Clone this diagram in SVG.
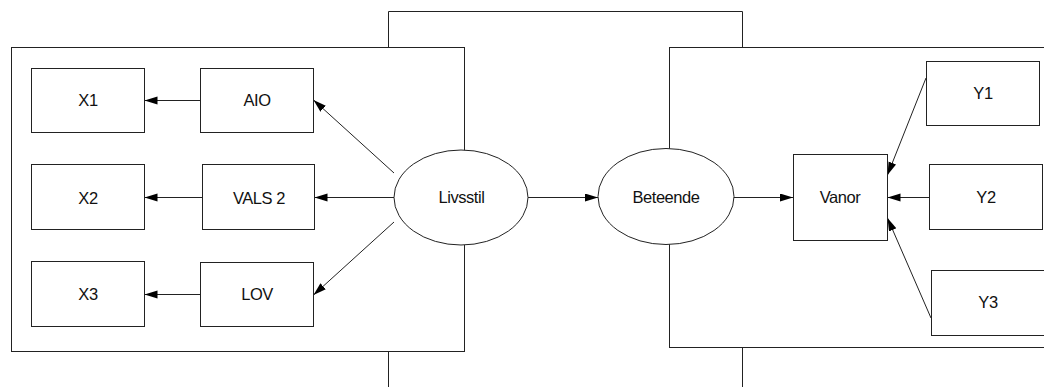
<svg xmlns="http://www.w3.org/2000/svg" width="1044" height="387" viewBox="0 0 1044 387">
  <style>
    .frame { fill: none; stroke: #222; stroke-width: 1; }
    .box { fill: #fff; stroke: #222; stroke-width: 1; }
    .oval { fill: #fff; stroke: #222; stroke-width: 1; }
    .lbl { font-family: "Liberation Sans", Arial, sans-serif; font-size: 16.5px; letter-spacing: -0.45px; fill: #111; text-anchor: middle; }
    .edge { fill: none; stroke: #222; stroke-width: 1; marker-end: url(#head); }
  </style>
  <defs>
    <marker id="head" markerUnits="userSpaceOnUse" markerWidth="14" markerHeight="9" refX="13" refY="4" orient="auto">
      <path d="M0,0 L13,4 L0,8 Z" fill="#000"/>
    </marker>
  </defs>
  <rect width="1044" height="387" fill="#fff"/>

  <!-- enclosing frames and the bracket joining them -->
  <g id="frames">
    <rect class="frame" x="11.5" y="47.5" width="453" height="304"/>
    <rect class="frame" x="669.5" y="47.5" width="400" height="300"/>
    <path class="frame" d="M388.5,47.5 V11.5 H742.5 V47.5"/>
    <path class="frame" d="M388.5,351.5 V387"/>
    <path class="frame" d="M742.5,347.5 V387"/>
  </g>

  <g id="connectors">
    <path class="edge" d="M200.5,100.5 H144.5"/>
    <path class="edge" d="M202.5,197.5 H144.5"/>
    <path class="edge" d="M200.5,294.5 H144.5"/>
    <path class="edge" d="M394,173 L313.5,100"/>
    <path class="edge" d="M394,197.5 H314.5"/>
    <path class="edge" d="M394,222 L313.5,295"/>
    <path class="edge" d="M528,197.5 H598"/>
    <path class="edge" d="M734,197.5 H793"/>
    <path class="edge" d="M929,197.5 H887.5"/>
    <path class="edge" d="M926,78 L887.5,175"/>
    <path class="edge" d="M931,318 L887.5,218"/>
  </g>

  <g id="X1"><rect class="box" x="31.5" y="68.5" width="113" height="64"/><text class="lbl" x="88" y="105.5">X1</text></g>
  <g id="AIO"><rect class="box" x="200.5" y="68.5" width="113" height="64"/><text class="lbl" x="257" y="105.5">AIO</text></g>
  <g id="X2"><rect class="box" x="31.5" y="164.5" width="113" height="65"/><text class="lbl" x="88" y="203.5">X2</text></g>
  <g id="VALS2"><rect class="box" x="202.5" y="164.5" width="112" height="65"/><text class="lbl" x="259" y="203.5">VALS 2</text></g>
  <g id="X3"><rect class="box" x="31.5" y="261.5" width="113" height="65"/><text class="lbl" x="88" y="300">X3</text></g>
  <g id="LOV"><rect class="box" x="200.5" y="262.5" width="113" height="64"/><text class="lbl" x="257" y="300">LOV</text></g>

  <g id="Livsstil"><ellipse class="oval" cx="461" cy="197.5" rx="67" ry="47.5"/><text class="lbl" x="461.5" y="203">Livsstil</text></g>
  <g id="Beteende"><ellipse class="oval" cx="666" cy="196.5" rx="68" ry="48"/><text class="lbl" x="666" y="203">Beteende</text></g>

  <g id="Vanor"><rect class="box" x="793.5" y="154.5" width="94" height="86"/><text class="lbl" x="840" y="203">Vanor</text></g>
  <g id="Y1"><rect class="box" x="926.5" y="61.5" width="113" height="64"/><text class="lbl" x="983" y="99">Y1</text></g>
  <g id="Y2"><rect class="box" x="929.5" y="164.5" width="113" height="65"/><text class="lbl" x="986" y="203">Y2</text></g>
  <g id="Y3"><rect class="box" x="931.5" y="270.5" width="120" height="65"/><text class="lbl" x="988" y="308">Y3</text></g>
</svg>
